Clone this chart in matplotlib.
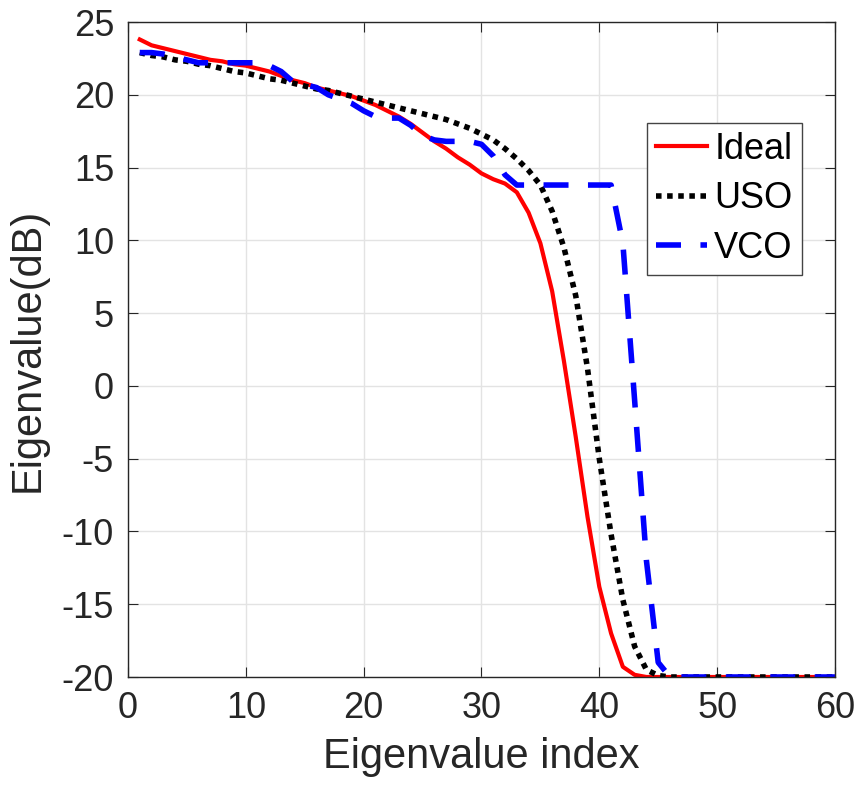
import numpy as np
import matplotlib
matplotlib.use("Agg")
import matplotlib.pyplot as plt

plt.rcParams['font.family'] = ['Liberation Sans', 'DejaVu Sans']
plt.rcParams['axes.unicode_minus'] = False

# eigenvalue index 1..60
idx = np.arange(1, 61)

ideal = [23.8, 23.4, 23.2, 23.0, 22.8, 22.6, 22.4, 22.3, 22.1, 22.0,
         21.8, 21.6, 21.3, 21.0, 20.8, 20.5, 20.3, 20.1, 19.9, 19.6,
         19.3, 18.9, 18.5, 18.0, 17.4, 16.8, 16.3, 15.7, 15.2, 14.6,
         14.2, 13.9, 13.3, 11.9, 9.8, 6.5, 1.7, -3.5, -9.0, -13.8,
         -17.0, -19.3, -19.85, -20.0, -20.0, -20.0, -20.0, -20.0, -20.0, -20.0,
         -20.0, -20.0, -20.0, -20.0, -20.0, -20.0, -20.0, -20.0, -20.0, -20.0]

uso = [22.9, 22.7, 22.6, 22.4, 22.3, 22.1, 22.0, 21.8, 21.6, 21.5,
       21.3, 21.1, 21.0, 20.8, 20.6, 20.4, 20.3, 20.1, 19.9, 19.7,
       19.5, 19.3, 19.1, 18.9, 18.7, 18.5, 18.3, 18.0, 17.7, 17.3,
       16.9, 16.3, 15.6, 14.8, 13.8, 12.0, 9.5, 6.2, 1.2, -5.0,
       -10.2, -14.7, -17.9, -19.5, -19.9, -20.0, -20.0, -20.0, -20.0, -20.0,
       -20.0, -20.0, -20.0, -20.0, -20.0, -20.0, -20.0, -20.0, -20.0, -20.0]

vco = [22.9, 22.9, 22.8, 22.6, 22.4, 22.2, 22.2, 22.2, 22.2, 22.2,
       22.2, 22.0, 21.6, 20.9, 20.7, 20.5, 20.0, 19.7, 19.4, 18.9,
       18.5, 18.4, 18.4, 17.9, 17.2, 16.9, 16.8, 16.8, 16.8, 16.6,
       15.8, 14.5, 13.8, 13.8, 13.8, 13.8, 13.8, 13.8, 13.8, 13.8,
       13.8, 9.8, -1.0, -12.0, -19.0, -20.0, -20.0, -20.0, -20.0, -20.0,
       -20.0, -20.0, -20.0, -20.0, -20.0, -20.0, -20.0, -20.0, -20.0, -20.0]

fig = plt.figure(figsize=(8.59, 7.92), dpi=100)
ax = fig.add_axes([0.149, 0.1452, 0.823, 0.827])

ax.plot(idx, ideal, color='red', lw=3, label='Ideal')
ax.plot(idx, uso, color='black', lw=4, linestyle=(0, (1, 1)), label='USO')
ax.plot(idx, vco, color='blue', lw=4, linestyle=(0, (4.5, 3.5)), label='VCO')

ax.set_xlim(0, 60)
ax.set_ylim(-20, 25)
ax.set_xticks(np.arange(0, 61, 10))
ax.set_yticks(np.arange(-20, 26, 5))
ax.grid(True, color='#e3e3e3', lw=1)
ax.set_axisbelow(True)
ax.tick_params(direction='in', top=True, right=True, labelsize=26,
               length=7, color='#262626', labelcolor='#262626', pad=10)
for s in ax.spines.values():
    s.set_color('#262626')
    s.set_linewidth(1)

ax.set_xlabel('Eigenvalue index', fontsize=30, labelpad=8, color='#262626')
ax.set_ylabel('Eigenvalue(dB)', fontsize=30, labelpad=10, color='#262626')

leg = ax.legend(loc='upper right', bbox_to_anchor=(0.953, 0.846), fontsize=26,
                handlelength=1.4, handletextpad=0.2, labelspacing=0.4,
                borderpad=0.25, borderaxespad=0, fancybox=False, framealpha=1)
leg.get_frame().set_edgecolor('#444444')
leg.get_frame().set_linewidth(1)

fig.savefig('out.png', dpi=100)
